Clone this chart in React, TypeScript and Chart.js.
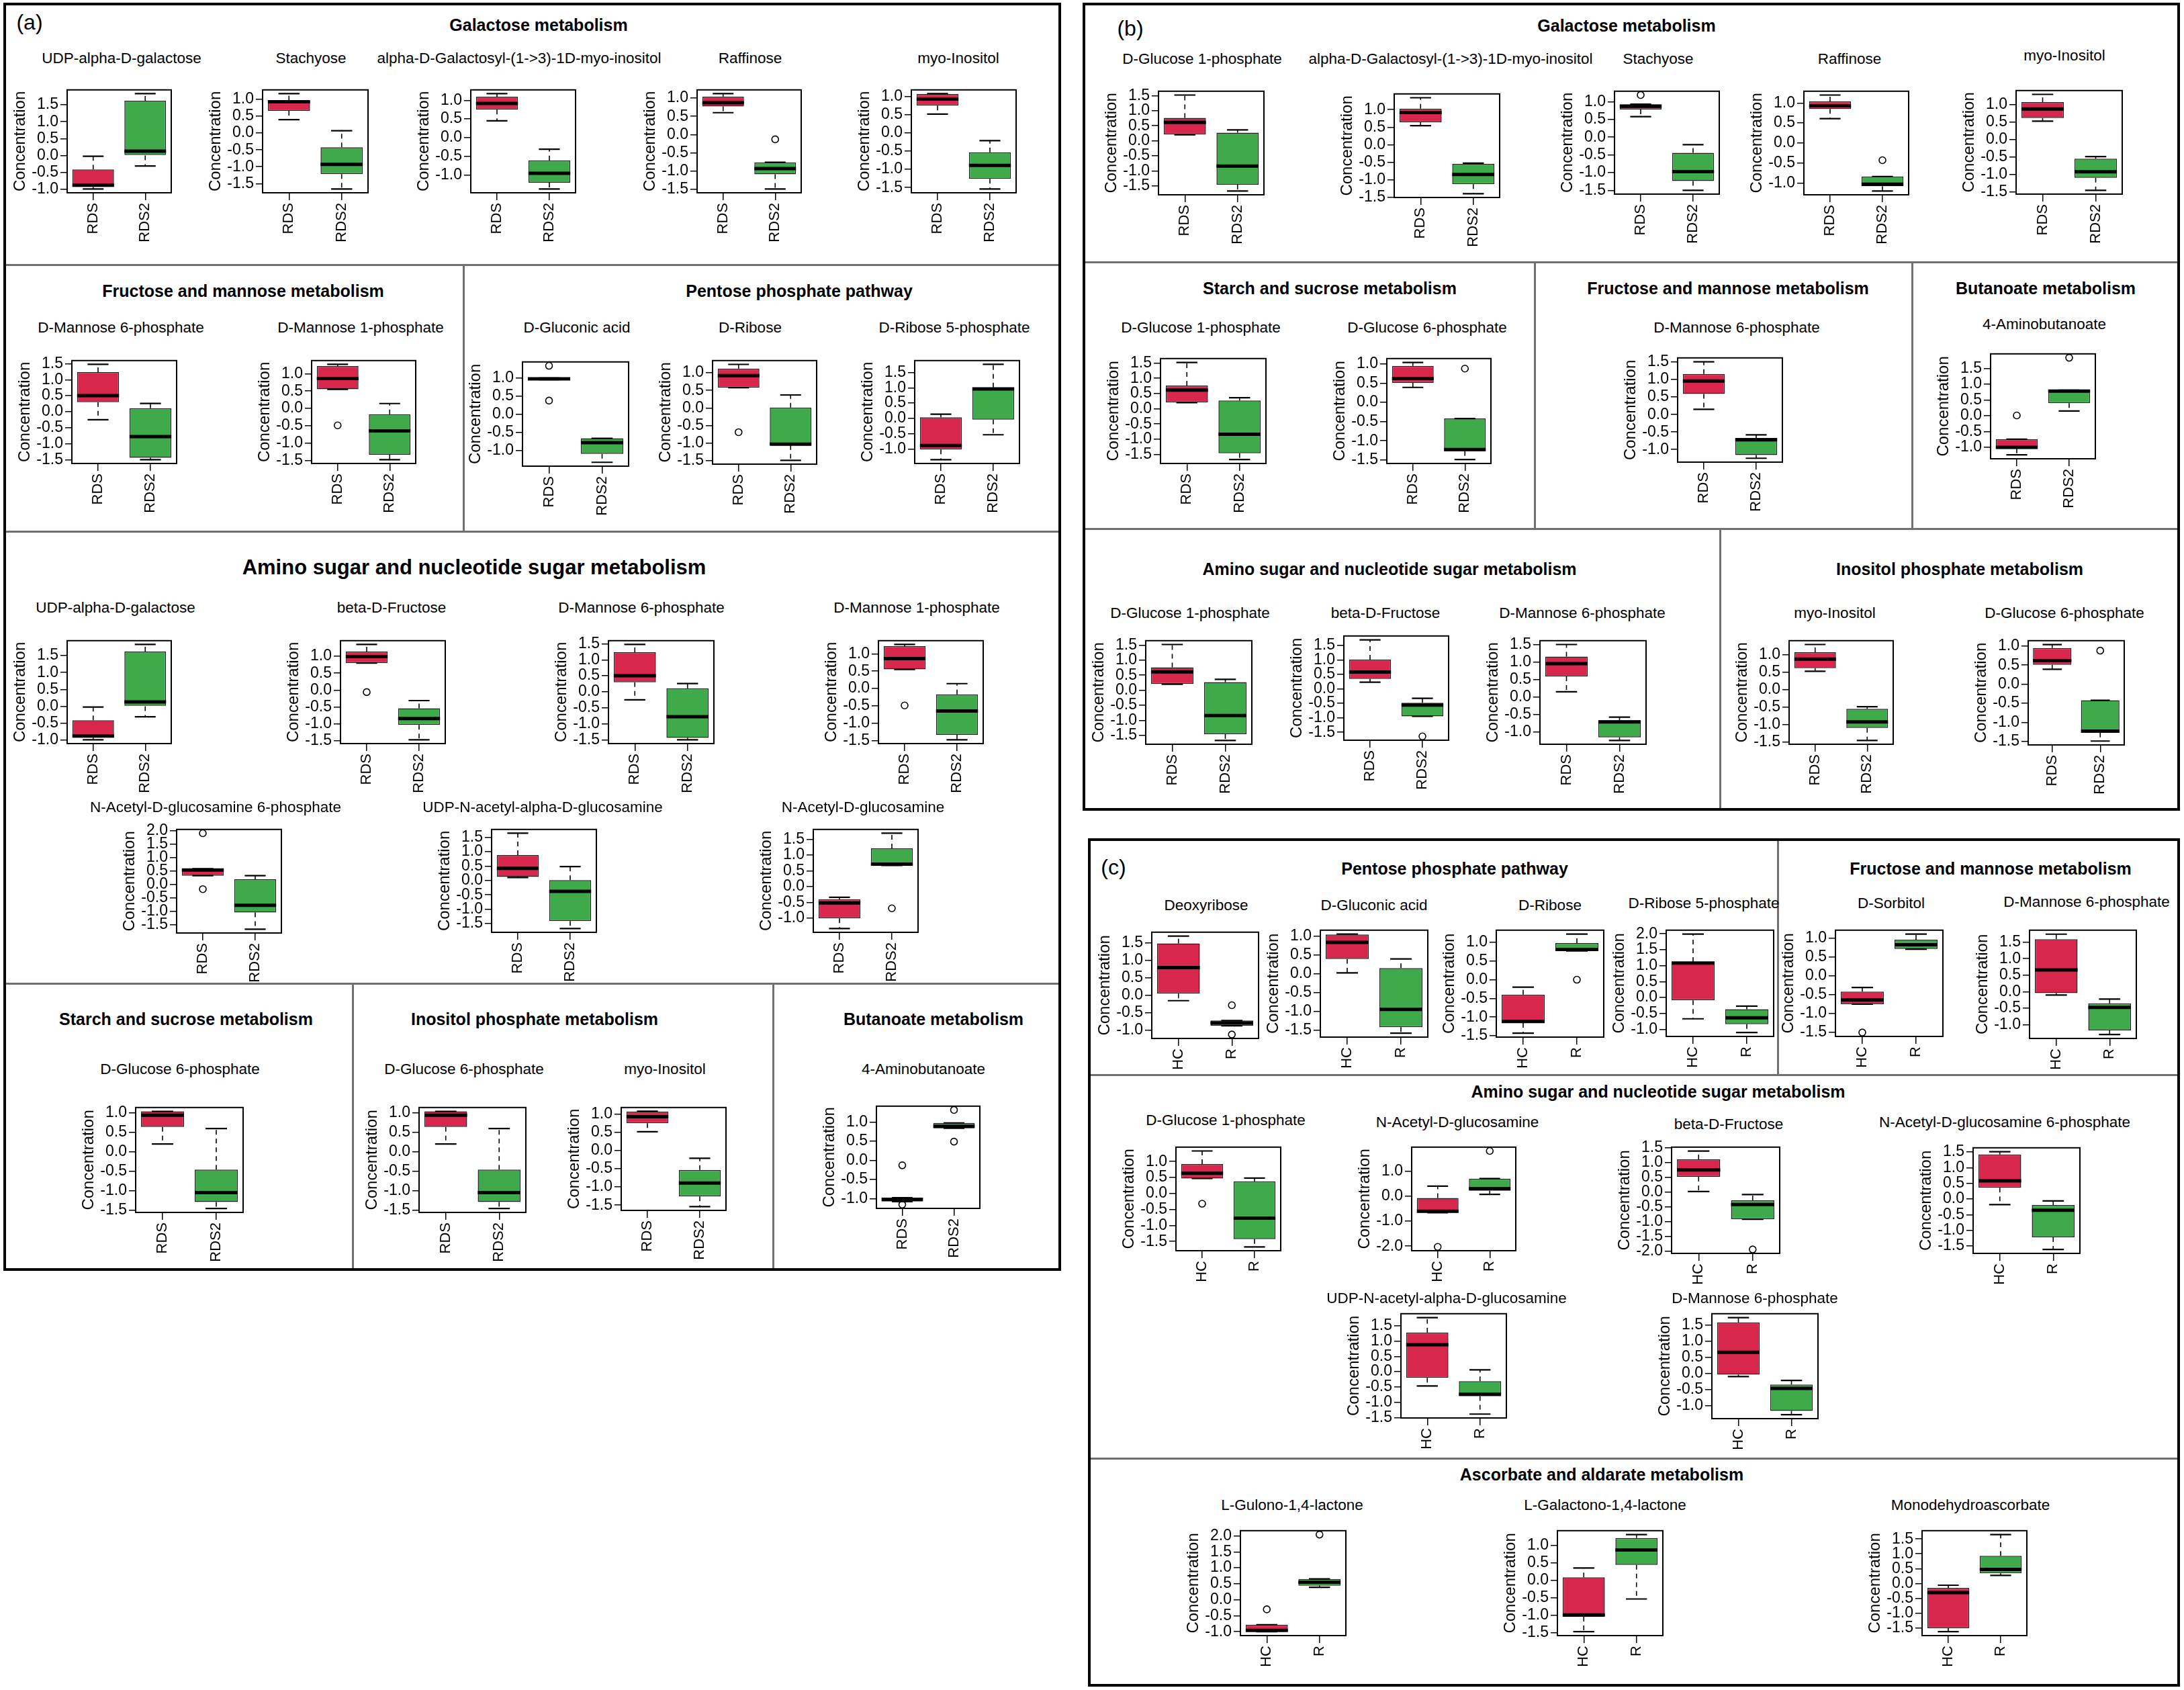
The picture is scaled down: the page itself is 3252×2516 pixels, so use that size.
import React, { useEffect, useRef } from 'react';
import { Chart, registerables } from 'chart.js';
Chart.register(...registerables);

const FONT = '"Liberation Sans", Arial, Helvetica, sans-serif';
const RED = '#D8264C';
const GREEN = '#3EAA4A';
const GROUP_COLORS = [RED, GREEN];

const GROUPS_AB = ['RDS', 'RDS2'];
const GROUPS_C = ['HC', 'R'];
const Y_TITLE = 'Concentration';

// Box statistics: [lower whisker, Q1, median, Q3, upper whisker]
// ---- Panel (a) ----
const UDPGAL_A_RDS = [-0.99, -0.93, -0.88, -0.41, -0.02];
const UDPGAL_A_RDS2 = [-0.31, 0.0, 0.13, 1.62, 1.83];
const STACHY_A_RDS = [0.40, 0.66, 0.93, 0.97, 1.17];
const STACHY_A_RDS2 = [-1.66, -1.22, -0.93, -0.42, 0.07];
const GALINO_A_RDS = [0.45, 0.75, 0.92, 1.10, 1.18];
const GALINO_A_RDS2 = [-1.38, -1.21, -0.96, -0.61, -0.31];
const RAFF_A_RDS = [0.60, 0.77, 0.87, 1.04, 1.12];
const RAFF_A_RDS2 = [-1.49, -1.09, -0.93, -0.76, -0.76];
const RAFF_A_OUT2 = [-0.13];
const MYO_A_RDS = [0.52, 0.75, 0.93, 1.07, 1.08];
const MYO_A_RDS2 = [-1.54, -1.26, -0.89, -0.53, -0.21];
const M6P_A_RDS = [-0.25, 0.30, 0.50, 1.24, 1.48];
const M6P_A_RDS2 = [-1.50, -1.44, -0.78, 0.11, 0.26];
const M1P_A_RDS = [0.55, 0.55, 0.86, 1.22, 1.27];
const M1P_A_OUT1 = [-0.49];
const M1P_A_RDS2 = [-1.48, -1.34, -0.65, -0.17, 0.14];
const GLUCON_A_RDS = [0.96, 0.96, 0.98, 1.0, 1.0];
const GLUCON_A_OUT1 = [1.34, 0.38];
const GLUCON_A_RDS2 = [-1.32, -1.09, -0.78, -0.66, -0.66];
const RIB_A_RDS = [0.58, 0.58, 0.92, 1.12, 1.24];
const RIB_A_OUT1 = [-0.69];
const RIB_A_RDS2 = [-1.49, -1.06, -1.03, 0.01, 0.37];
const R5P_A_RDS = [-1.34, -1.01, -0.88, 0.04, 0.14];
const R5P_A_RDS2 = [-0.53, -0.04, 0.96, 1.01, 1.76];
const FRU_A_RDS = [0.80, 0.80, 0.99, 1.14, 1.35];
const FRU_A_OUT1 = [-0.06];
const FRU_A_RDS2 = [-1.47, -1.03, -0.84, -0.54, -0.31];
const NAG6P_A_RDS = [0.32, 0.32, 0.53, 0.58, 0.58];
const NAG6P_A_OUT1 = [1.90, -0.18];
const NAG6P_A_RDS2 = [-1.67, -1.05, -0.78, 0.19, 0.32];
const UDPNAG_A_RDS = [0.10, 0.12, 0.42, 0.88, 1.64];
const UDPNAG_A_RDS2 = [-1.67, -1.41, -0.38, 0.01, 0.48];
const NAG_A_RDS = [-1.33, -1.01, -0.52, -0.40, -0.34];
const NAG_A_RDS2 = [0.67, 0.67, 0.71, 1.21, 1.69];
const NAG_A_OUT2 = [-0.69];
const G6P_A_RDS = [0.20, 0.64, 0.94, 1.04, 1.04];
const G6P_A_RDS2 = [-1.46, -1.29, -1.05, -0.46, 0.60];
const GABA_A_RDS = [-1.08, -1.08, -1.02, -0.98, -0.98];
const GABA_A_OUT1 = [-0.13, -1.16];
const GABA_A_RDS2 = [0.84, 0.84, 0.89, 0.98, 0.98];
const GABA_A_OUT2 = [1.32, 0.49];

// ---- Panel (b) ----
const G1P_B_RDS = [0.20, 0.21, 0.61, 0.76, 1.52];
const G1P_B_RDS2 = [-1.67, -1.46, -0.84, 0.27, 0.36];
const GALINO_B_RDS = [0.54, 0.64, 0.92, 1.03, 1.34];
const GALINO_B_RDS2 = [-1.40, -1.13, -0.85, -0.55, -0.53];
const STACHY_B_RDS = [0.58, 0.78, 0.87, 0.93, 0.93];
const STACHY_B_OUT1 = [1.19];
const STACHY_B_RDS2 = [-1.50, -1.24, -0.97, -0.44, -0.21];
const RAFF_B_RDS = [0.61, 0.85, 0.93, 1.04, 1.20];
const RAFF_B_RDS2 = [-1.20, -1.08, -1.03, -0.84, -0.84];
const RAFF_B_OUT2 = [-0.43];
const MYO_B_RDS = [0.53, 0.62, 0.88, 1.08, 1.30];
const MYO_B_RDS2 = [-1.46, -1.10, -0.93, -0.55, -0.49];
const G6P_B_RDS = [0.39, 0.51, 0.62, 0.95, 1.04];
const G6P_B_RDS2 = [-1.49, -1.27, -1.23, -0.42, -0.42];
const G6P_B_OUT2 = [0.88];
const M6P_B_RDS = [0.15, 0.59, 0.96, 1.16, 1.51];
const M6P_B_RDS2 = [-1.25, -1.16, -0.72, -0.67, -0.58];
const GABA_B_RDS = [-1.24, -1.04, -1.00, -0.74, -0.74];
const GABA_B_OUT1 = [0.01];
const GABA_B_RDS2 = [0.15, 0.40, 0.78, 0.81, 0.81];
const GABA_B_OUT2 = [1.84];
const FRU_B_RDS = [0.23, 0.34, 0.58, 1.01, 1.69];
const FRU_B_RDS2 = [-0.95, -0.95, -0.56, -0.48, -0.33];
const FRU_B_OUT2 = [-1.64];

// ---- Panel (c) ----
const DEOXY_HC = [-0.15, 0.05, 0.80, 1.49, 1.70];
const DEOXY_R = [-0.87, -0.87, -0.79, -0.72, -0.72];
const DEOXY_OUT2 = [-0.28, -1.12];
const GLUCON_C_HC = [0.02, 0.39, 0.83, 1.04, 1.05];
const GLUCON_C_R = [-1.58, -1.42, -0.95, 0.15, 0.39];
const RIB_C_HC = [-1.43, -1.16, -1.12, -0.40, -0.20];
const RIB_C_R = [0.77, 0.77, 0.81, 0.98, 1.22];
const RIB_C_OUT2 = [0.0];
const R5P_C_HC = [-0.67, -0.09, 1.08, 1.12, 1.99];
const R5P_C_R = [-1.10, -0.84, -0.64, -0.37, -0.27];
const SORB_HC = [-0.75, -0.75, -0.64, -0.42, -0.31];
const SORB_OUT1 = [-1.50];
const SORB_R = [0.70, 0.71, 0.82, 0.95, 1.10];
const M6P_C_HC = [-0.10, -0.04, 0.66, 1.59, 1.74];
const M6P_C_R = [-1.29, -1.17, -0.47, -0.35, -0.22];
const G1P_C_HC = [0.47, 0.47, 0.63, 0.92, 1.33];
const G1P_C_OUT1 = [-0.32];
const G1P_C_R = [-1.67, -1.43, -0.77, 0.38, 0.48];
const NAG_C_HC = [-0.66, -0.66, -0.60, -0.07, 0.41];
const NAG_C_OUT1 = [-2.03];
const NAG_C_R = [0.08, 0.22, 0.31, 0.71, 0.71];
const NAG_C_OUT2 = [1.82];
const FRU_C_HC = [0.01, 0.51, 0.74, 1.10, 1.38];
const FRU_C_R = [-0.93, -0.93, -0.43, -0.29, -0.09];
const FRU_C_OUT2 = [-1.95];
const NAG6P_C_HC = [-0.18, 0.36, 0.58, 1.42, 1.51];
const NAG6P_C_R = [-1.61, -1.22, -0.36, -0.19, -0.06];
const UDPNAG_C_HC = [-0.47, -0.20, 0.88, 1.28, 1.77];
const UDPNAG_C_R = [-1.39, -0.80, -0.74, -0.31, 0.06];
const GUL_HC = [-1.0, -1.0, -0.96, -0.78, -0.78];
const GUL_OUT1 = [-0.30];
const GUL_R = [0.39, 0.44, 0.55, 0.65, 0.65];
const GUL_OUT2 = [2.04];
const GAL_HC = [-1.48, -1.05, -1.0, 0.08, 0.35];
const GAL_R = [-0.54, 0.44, 0.87, 1.21, 1.31];
const MDHA_HC = [-1.63, -1.51, -0.31, -0.15, -0.06];
const MDHA_R = [0.27, 0.34, 0.47, 0.93, 1.65];

const NONE: number[] = [];

type Spec = {
  t: string; g: string[]; s: number[][]; o: number[][]; step: number;
  x: number; y: number; w: number; h: number; tx: number; ty: number;
};

function mk(t: string, g: string[], s: number[][], o: number[][], x: number, y: number, w: number, h: number, tx: number, ty: number, step = 0.5): Spec {
  return { t, g, s, o, step, x, y, w, h, tx, ty };
}

const CHARTS: Spec[] = [
  // (a) Galactose metabolism
  mk('UDP-alpha-D-galactose', GROUPS_AB, [UDPGAL_A_RDS, UDPGAL_A_RDS2], [NONE, NONE], 100, 133, 155, 154, 181, 87),
  mk('Stachyose', GROUPS_AB, [STACHY_A_RDS, STACHY_A_RDS2], [NONE, NONE], 391, 133, 157, 154, 463, 87),
  mk('alpha-D-Galactosyl-(1->3)-1D-myo-inositol', GROUPS_AB, [GALINO_A_RDS, GALINO_A_RDS2], [NONE, NONE], 701, 133, 156, 154, 773, 87),
  mk('Raffinose', GROUPS_AB, [RAFF_A_RDS, RAFF_A_RDS2], [NONE, RAFF_A_OUT2], 1038, 133, 155, 154, 1117, 87),
  mk('myo-Inositol', GROUPS_AB, [MYO_A_RDS, MYO_A_RDS2], [NONE, NONE], 1357, 133, 156, 154, 1427, 87),
  // (a) Fructose and mannose / Pentose phosphate
  mk('D-Mannose 6-phosphate', GROUPS_AB, [M6P_A_RDS, M6P_A_RDS2], [NONE, NONE], 107, 536, 156, 154, 180, 488),
  mk('D-Mannose 1-phosphate', GROUPS_AB, [M1P_A_RDS, M1P_A_RDS2], [M1P_A_OUT1, NONE], 464, 536, 155, 154, 537, 488),
  mk('D-Gluconic acid', GROUPS_AB, [GLUCON_A_RDS, GLUCON_A_RDS2], [GLUCON_A_OUT1, NONE], 778, 538, 158, 156, 859, 488),
  mk('D-Ribose', GROUPS_AB, [RIB_A_RDS, RIB_A_RDS2], [RIB_A_OUT1, NONE], 1061, 536, 155, 155, 1117, 488),
  mk('D-Ribose 5-phosphate', GROUPS_AB, [R5P_A_RDS, R5P_A_RDS2], [NONE, NONE], 1362, 536, 156, 154, 1421, 488),
  // (a) Amino sugar
  mk('UDP-alpha-D-galactose', GROUPS_AB, [UDPGAL_A_RDS, UDPGAL_A_RDS2], [NONE, NONE], 100, 953, 155, 154, 172, 905),
  mk('beta-D-Fructose', GROUPS_AB, [FRU_A_RDS, FRU_A_RDS2], [FRU_A_OUT1, NONE], 507, 953, 156, 154, 583, 905),
  mk('D-Mannose 6-phosphate', GROUPS_AB, [M6P_A_RDS, M6P_A_RDS2], [NONE, NONE], 906, 953, 157, 154, 955, 905),
  mk('D-Mannose 1-phosphate', GROUPS_AB, [M1P_A_RDS, M1P_A_RDS2], [M1P_A_OUT1, NONE], 1308, 953, 156, 154, 1365, 905),
  mk('N-Acetyl-D-glucosamine 6-phosphate', GROUPS_AB, [NAG6P_A_RDS, NAG6P_A_RDS2], [NAG6P_A_OUT1, NONE], 263, 1234, 156, 155, 321, 1202),
  mk('UDP-N-acetyl-alpha-D-glucosamine', GROUPS_AB, [UDPNAG_A_RDS, UDPNAG_A_RDS2], [NONE, NONE], 732, 1234, 156, 154, 808, 1202),
  mk('N-Acetyl-D-glucosamine', GROUPS_AB, [NAG_A_RDS, NAG_A_RDS2], [NONE, NAG_A_OUT2], 1211, 1234, 156, 154, 1285, 1202),
  // (a) bottom row
  mk('D-Glucose 6-phosphate', GROUPS_AB, [G6P_A_RDS, G6P_A_RDS2], [NONE, NONE], 202, 1648, 160, 157, 268, 1592),
  mk('D-Glucose 6-phosphate', GROUPS_AB, [G6P_A_RDS, G6P_A_RDS2], [NONE, NONE], 624, 1648, 159, 157, 691, 1592),
  mk('myo-Inositol', GROUPS_AB, [MYO_A_RDS, MYO_A_RDS2], [NONE, NONE], 925, 1648, 156, 154, 990, 1592),
  mk('4-Aminobutanoate', GROUPS_AB, [GABA_A_RDS, GABA_A_RDS2], [GABA_A_OUT1, GABA_A_OUT2], 1305, 1646, 154, 153, 1375, 1592),

  // (b) Galactose metabolism
  mk('D-Glucose 1-phosphate', GROUPS_AB, [G1P_B_RDS, G1P_B_RDS2], [NONE, NONE], 1725, 135, 157, 155, 1790, 88),
  mk('alpha-D-Galactosyl-(1->3)-1D-myo-inositol', GROUPS_AB, [GALINO_B_RDS, GALINO_B_RDS2], [NONE, NONE], 2076, 139, 157, 155, 2160, 88),
  mk('Stachyose', GROUPS_AB, [STACHY_B_RDS, STACHY_B_RDS2], [STACHY_B_OUT1, NONE], 2404, 135, 156, 154, 2469, 88),
  mk('Raffinose', GROUPS_AB, [RAFF_B_RDS, RAFF_B_RDS2], [NONE, RAFF_B_OUT2], 2686, 135, 156, 155, 2754, 88),
  mk('myo-Inositol', GROUPS_AB, [MYO_B_RDS, MYO_B_RDS2], [NONE, NONE], 3002, 134, 158, 155, 3074, 83),
  // (b) second row
  mk('D-Glucose 1-phosphate', GROUPS_AB, [G1P_B_RDS, G1P_B_RDS2], [NONE, NONE], 1728, 533, 157, 157, 1788, 488),
  mk('D-Glucose 6-phosphate', GROUPS_AB, [G6P_B_RDS, G6P_B_RDS2], [NONE, G6P_B_OUT2], 2065, 533, 155, 157, 2125, 488),
  mk('D-Mannose 6-phosphate', GROUPS_AB, [M6P_B_RDS, M6P_B_RDS2], [NONE, NONE], 2498, 532, 156, 156, 2586, 488),
  mk('4-Aminobutanoate', GROUPS_AB, [GABA_B_RDS, GABA_B_RDS2], [GABA_B_OUT1, GABA_B_OUT2], 2964, 526, 156, 157, 3044, 483),
  // (b) third row
  mk('D-Glucose 1-phosphate', GROUPS_AB, [G1P_B_RDS, G1P_B_RDS2], [NONE, NONE], 1706, 953, 158, 155, 1772, 913),
  mk('beta-D-Fructose', GROUPS_AB, [FRU_B_RDS, FRU_B_RDS2], [NONE, FRU_B_OUT2], 2001, 946, 156, 156, 2063, 913),
  mk('D-Mannose 6-phosphate', GROUPS_AB, [M6P_B_RDS, M6P_B_RDS2], [NONE, NONE], 2293, 953, 158, 155, 2356, 913),
  mk('myo-Inositol', GROUPS_AB, [MYO_B_RDS, MYO_B_RDS2], [NONE, NONE], 2664, 953, 155, 155, 2732, 913),
  mk('D-Glucose 6-phosphate', GROUPS_AB, [G6P_B_RDS, G6P_B_RDS2], [NONE, G6P_B_OUT2], 3020, 953, 143, 156, 3074, 913),

  // (c) first row
  mk('Deoxyribose', GROUPS_C, [DEOXY_HC, DEOXY_R], [NONE, DEOXY_OUT2], 1715, 1387, 159, 159, 1796, 1348),
  mk('D-Gluconic acid', GROUPS_C, [GLUCON_C_HC, GLUCON_C_R], [NONE, NONE], 1966, 1384, 160, 160, 2046, 1348),
  mk('D-Ribose', GROUPS_C, [RIB_C_HC, RIB_C_R], [NONE, RIB_C_OUT2], 2228, 1384, 160, 160, 2308, 1348),
  mk('D-Ribose 5-phosphate', GROUPS_C, [R5P_C_HC, R5P_C_R], [NONE, NONE], 2481, 1384, 160, 159, 2537, 1345),
  mk('D-Sorbitol', GROUPS_C, [SORB_HC, SORB_R], [SORB_OUT1, NONE], 2733, 1384, 160, 159, 2816, 1345),
  mk('D-Mannose 6-phosphate', GROUPS_C, [M6P_C_HC, M6P_C_R], [NONE, NONE], 3022, 1384, 159, 162, 3107, 1343),
  // (c) amino sugar
  mk('D-Glucose 1-phosphate', GROUPS_C, [G1P_C_HC, G1P_C_R], [G1P_C_OUT1, NONE], 1751, 1707, 156, 155, 1825, 1668),
  mk('N-Acetyl-D-glucosamine', GROUPS_C, [NAG_C_HC, NAG_C_R], [NAG_C_OUT1, NAG_C_OUT2], 2102, 1707, 155, 155, 2170, 1671, 1.0),
  mk('beta-D-Fructose', GROUPS_C, [FRU_C_HC, FRU_C_R], [NONE, FRU_C_OUT2], 2489, 1707, 161, 159, 2574, 1674),
  mk('N-Acetyl-D-glucosamine 6-phosphate', GROUPS_C, [NAG6P_C_HC, NAG6P_C_R], [NONE, NONE], 2938, 1708, 159, 158, 2985, 1671),
  mk('UDP-N-acetyl-alpha-D-glucosamine', GROUPS_C, [UDPNAG_C_HC, UDPNAG_C_R], [NONE, NONE], 2086, 1955, 157, 156, 2154, 1933),
  mk('D-Mannose 6-phosphate', GROUPS_C, [M6P_C_HC, M6P_C_R], [NONE, NONE], 2549, 1955, 158, 157, 2613, 1933),
  // (c) ascorbate
  mk('L-Gulono-1,4-lactone', GROUPS_C, [GUL_HC, GUL_R], [GUL_OUT1, GUL_OUT2], 1847, 2278, 157, 157, 1924, 2241),
  mk('L-Galactono-1,4-lactone', GROUPS_C, [GAL_HC, GAL_R], [NONE, NONE], 2319, 2278, 157, 157, 2390, 2241),
  mk('Monodehydroascorbate', GROUPS_C, [MDHA_HC, MDHA_R], [NONE, NONE], 2862, 2278, 156, 157, 2934, 2241),
];

const HEADERS: { text: string; cx: number; cy: number; size: number }[] = [
  { text: 'Galactose metabolism', cx: 802, cy: 37, size: 25 },
  { text: 'Fructose and mannose metabolism', cx: 362, cy: 433, size: 25 },
  { text: 'Pentose phosphate pathway', cx: 1190, cy: 433, size: 25 },
  { text: 'Amino sugar and nucleotide sugar metabolism', cx: 706, cy: 844, size: 31 },
  { text: 'Starch and sucrose metabolism', cx: 277, cy: 1517, size: 25 },
  { text: 'Inositol phosphate metabolism', cx: 796, cy: 1517, size: 25 },
  { text: 'Butanoate metabolism', cx: 1390, cy: 1517, size: 25 },
  { text: 'Galactose metabolism', cx: 2422, cy: 38, size: 25 },
  { text: 'Starch and sucrose metabolism', cx: 1980, cy: 429, size: 25 },
  { text: 'Fructose and mannose metabolism', cx: 2573, cy: 429, size: 25 },
  { text: 'Butanoate metabolism', cx: 3046, cy: 429, size: 25 },
  { text: 'Amino sugar and nucleotide sugar metabolism', cx: 2069, cy: 847, size: 25 },
  { text: 'Inositol phosphate metabolism', cx: 2918, cy: 847, size: 25 },
  { text: 'Pentose phosphate pathway', cx: 2166, cy: 1293, size: 25 },
  { text: 'Fructose and mannose metabolism', cx: 2964, cy: 1293, size: 25 },
  { text: 'Amino sugar and nucleotide sugar metabolism', cx: 2469, cy: 1625, size: 25 },
  { text: 'Ascorbate and aldarate metabolism', cx: 2385, cy: 2195, size: 25 },
];

const PANEL_LABELS = [
  { text: '(a)', cx: 44, cy: 33 },
  { text: '(b)', cx: 1683, cy: 42 },
  { text: '(c)', cx: 1658, cy: 1291 },
];

const FRAMES = [
  { l: 5, t: 4, r: 1580, b: 1892 },
  { l: 1612, t: 4, r: 3246, b: 1207 },
  { l: 1620, t: 1248, r: 3246, b: 2511 },
];

// separators: [x1, y1, x2, y2]
const SEPARATORS = [
  [5, 394, 1580, 394], [5, 791, 1580, 791], [5, 1464, 1580, 1464],
  [690, 394, 690, 791], [525, 1464, 525, 1892], [1151, 1464, 1151, 1892],
  [1612, 390, 3246, 390], [1612, 787, 3246, 787],
  [2285, 390, 2285, 787], [2847, 390, 2847, 787], [2561, 787, 2561, 1207],
  [1620, 1600, 3246, 1600], [1620, 2171, 3246, 2171], [2647, 1248, 2647, 1600],
];

const YW = 84, PR = 8, PT = 16, XH = 86;

function MiniBox({ spec }: { spec: Spec }) {
  const ref = useRef<HTMLCanvasElement | null>(null);
  useEffect(() => {
    if (!ref.current) return;
    const { s, o, g, step } = spec;
    let lo = Infinity, hi = -Infinity;
    s.forEach((st, i) => {
      lo = Math.min(lo, st[0], ...o[i]);
      hi = Math.max(hi, st[4], ...o[i]);
    });
    const pad = (hi - lo) * 0.04;
    const min = lo - pad, max = hi + pad;
    const ticks: number[] = [];
    for (let k = Math.ceil(min / step - 1e-9); k * step <= max + 1e-9; k++) ticks.push(Math.round(k * step * 10) / 10);

    const boxPlugin = {
      id: 'boxplotDraw',
      afterDatasetsDraw(chart: any) {
        const ctx = chart.ctx;
        const xs = chart.scales.x, ys = chart.scales.y;
        const meta = chart.getDatasetMeta(0);
        s.forEach((st, i) => {
          const cx = xs.getPixelForValue(i);
          const bw = meta.data[i].width;
          const half = bw / 2, cap = bw / 4;
          const py = (v: number) => ys.getPixelForValue(v);
          ctx.save();
          ctx.strokeStyle = '#000';
          ctx.lineWidth = 1.6;
          ctx.setLineDash([7, 6]);
          ctx.beginPath();
          ctx.moveTo(cx, py(st[3])); ctx.lineTo(cx, py(st[4]));
          ctx.moveTo(cx, py(st[1])); ctx.lineTo(cx, py(st[0]));
          ctx.stroke();
          ctx.setLineDash([]);
          ctx.lineWidth = 2.2;
          ctx.beginPath();
          ctx.moveTo(cx - cap, py(st[4])); ctx.lineTo(cx + cap, py(st[4]));
          ctx.moveTo(cx - cap, py(st[0])); ctx.lineTo(cx + cap, py(st[0]));
          ctx.stroke();
          ctx.lineWidth = 5;
          ctx.beginPath();
          ctx.moveTo(cx - half, py(st[2])); ctx.lineTo(cx + half, py(st[2]));
          ctx.stroke();
          ctx.lineWidth = 1.6;
          o[i].forEach((v) => {
            ctx.beginPath();
            ctx.arc(cx, py(v), 5, 0, Math.PI * 2);
            ctx.stroke();
          });
          ctx.restore();
        });
      },
      afterDraw(chart: any) {
        const a = chart.chartArea;
        const ctx = chart.ctx;
        ctx.save();
        ctx.strokeStyle = '#000';
        ctx.lineWidth = 2;
        ctx.strokeRect(a.left, a.top, a.right - a.left, a.bottom - a.top);
        ctx.restore();
      },
    };

    const chart = new Chart(ref.current, {
      type: 'bar',
      data: {
        labels: g,
        datasets: [{
          data: s.map((st) => [st[1], st[3]]) as any,
          backgroundColor: GROUP_COLORS,
          borderColor: '#222',
          borderWidth: 1.5,
          borderSkipped: false,
          barPercentage: 1,
          categoryPercentage: 0.8,
        }],
      },
      options: {
        animation: false,
        responsive: false,
        devicePixelRatio: 1,
        events: [],
        layout: { padding: { top: PT, right: PR, left: 0, bottom: 0 } },
        plugins: { legend: { display: false }, tooltip: { enabled: false }, title: { display: false } },
        scales: {
          x: {
            type: 'category',
            offset: true,
            border: { display: false },
            grid: { display: true, drawOnChartArea: false, drawTicks: true, tickLength: 11, offset: false, color: '#000', lineWidth: 1.5 },
            ticks: { autoSkip: false, minRotation: 90, maxRotation: 90, padding: 4, color: '#000', font: { family: FONT, size: 22 } },
            afterFit: (sc: any) => { sc.height = XH; },
          },
          y: {
            type: 'linear',
            min, max,
            border: { display: false },
            afterBuildTicks: (sc: any) => { sc.ticks = ticks.map((v) => ({ value: v })); },
            grid: { display: true, drawOnChartArea: false, drawTicks: true, tickLength: 10, color: '#000', lineWidth: 1.5 },
            ticks: { autoSkip: false, padding: 3, color: '#000', font: { family: FONT, size: 23 }, callback: (v: any) => Number(v).toFixed(1) },
            title: { display: true, text: Y_TITLE, color: '#000', font: { family: FONT, size: 24 }, padding: { top: 0, bottom: 0 } },
            afterFit: (sc: any) => { sc.width = YW; },
          },
        },
      } as any,
      plugins: [boxPlugin as any],
    });
    return () => chart.destroy();
  }, [spec]);

  return (
    <>
      <canvas
        ref={ref}
        width={spec.w + YW + PR}
        height={spec.h + PT + XH}
        style={{ position: 'absolute', left: spec.x - YW, top: spec.y - PT }}
      />
      <div style={{
        position: 'absolute', left: spec.tx, top: spec.ty, transform: 'translate(-50%, -50%)',
        whiteSpace: 'nowrap', fontFamily: FONT, fontSize: 22.5, lineHeight: 1, color: '#000',
      }}>{spec.t}</div>
    </>
  );
}

export default function App() {
  return (
    <div style={{ position: 'absolute', left: 0, top: 0, width: 3252, height: 2516, background: '#fff', overflow: 'hidden', fontFamily: FONT }}>
      {SEPARATORS.map((sp, i) => {
        const horiz = sp[1] === sp[3];
        return (
          <div key={'sep' + i} style={{
            position: 'absolute',
            left: horiz ? sp[0] : sp[0] - 1,
            top: horiz ? sp[1] - 1 : sp[1],
            width: horiz ? sp[2] - sp[0] : 2.5,
            height: horiz ? 2.5 : sp[3] - sp[1],
            background: '#707070',
          }} />
        );
      })}
      {FRAMES.map((f, i) => (
        <div key={'fr' + i} style={{
          position: 'absolute', left: f.l, top: f.t, width: f.r - f.l, height: f.b - f.t,
          border: '4px solid #000', boxSizing: 'border-box',
        }} />
      ))}
      {PANEL_LABELS.map((p, i) => (
        <div key={'pl' + i} style={{
          position: 'absolute', left: p.cx, top: p.cy, transform: 'translate(-50%, -50%)',
          fontSize: 32, lineHeight: 1, whiteSpace: 'nowrap', color: '#000',
        }}>{p.text}</div>
      ))}
      {HEADERS.map((h, i) => (
        <div key={'hd' + i} style={{
          position: 'absolute', left: h.cx, top: h.cy, transform: 'translate(-50%, -50%)',
          fontSize: h.size, fontWeight: 'bold', lineHeight: 1, whiteSpace: 'nowrap', color: '#000',
        }}>{h.text}</div>
      ))}
      {CHARTS.map((c, i) => <MiniBox key={'ch' + i} spec={c} />)}
    </div>
  );
}
